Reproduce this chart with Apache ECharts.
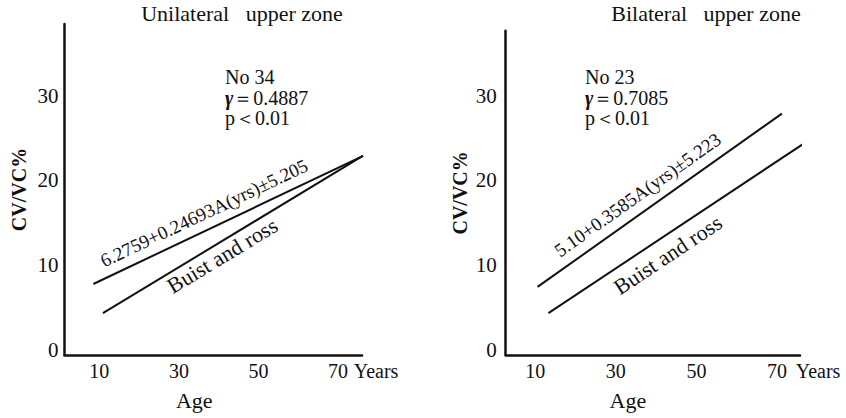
<!DOCTYPE html>
<html>
<head>
<meta charset="utf-8">
<script src="https://cdn.jsdelivr.net/npm/echarts@6/dist/echarts.min.js"></script>
<style>
html,body{margin:0;padding:0;background:#fff;}
#chart{width:846px;height:418px;}
</style>
</head>
<body>
<div id="chart"></div>
<script>
// ---- data ----
const xTickValues = [10, 30, 50, 70];
const yTickValues = [0, 10, 20, 30];
const panelTitles = ['Unilateral   upper zone', 'Bilateral   upper zone'];
const panelStats = [['No 34', '0.4887', '0.01'], ['No 23', '0.7085', '0.01']];
const regressionLabels = ['6.2759+0.24693A(yrs)\u00b15.205', '5.10+0.3585A(yrs)\u00b15.223'];
const referenceLabel = 'Buist and ross';

// Unilateral panel
const uniRegAge = [8.5, 76.3];
const uniRegCV = [7.75, 22.9];
const uniBRAge = [10.9, 76.2];
const uniBRCV = [4.3, 22.9];
// Bilateral panel
const biRegAge = [10.6, 71.2];
const biRegCV = [7.4, 27.9];
const biBRAge = [13.3, 77.4];
const biBRCV = [4.3, 24.6];

const zip = (a, b) => a.map((v, i) => [v, b[i]]);

const FONT = "'Liberation Serif', 'DejaVu Serif', serif";
const INK = '#111';

function xAxisFor(idx, min, max, namePad) {
  return {
    gridIndex: idx, type: 'value', min: min, max: max,
    axisLine: { show: true, onZero: false, lineStyle: { color: INK, width: 2.5 } },
    axisTick: { show: false },
    splitLine: { show: false },
    axisLabel: { customValues: xTickValues, color: INK, fontFamily: FONT, fontSize: 20, margin: 6 },
    name: 'Age', nameLocation: 'middle', nameGap: 34,
    nameTextStyle: { color: INK, fontFamily: FONT, fontSize: 22, padding: namePad }
  };
}
function yAxisFor(idx, min, max, margin) {
  return {
    gridIndex: idx, type: 'value', min: min, max: max,
    axisLine: { show: true, onZero: false, lineStyle: { color: INK, width: 2.5 } },
    axisTick: { show: false },
    splitLine: { show: false },
    axisLabel: { customValues: yTickValues, color: INK, fontFamily: FONT, fontSize: 21, margin: margin },
    name: 'CV/VC%', nameLocation: 'middle', nameGap: 36, nameRotate: 90,
    nameTextStyle: { color: INK, fontFamily: FONT, fontSize: 20, fontWeight: 'bold' }
  };
}
function lineSeries(idx, ages, cvs) {
  return {
    type: 'line', xAxisIndex: idx, yAxisIndex: idx, data: zip(ages, cvs),
    symbol: 'none', clip: false, silent: true,
    lineStyle: { color: INK, width: 2 }
  };
}
function labelSeries(idx, anchor, text, size) {
  return {
    type: 'scatter', xAxisIndex: idx, yAxisIndex: idx, data: [anchor],
    symbolSize: 1, itemStyle: { color: 'rgba(0,0,0,0)', opacity: 1 }, clip: false, silent: true,
    label: { show: true, position: 'inside', formatter: text, rotate: 0, opacity: 1,
      color: INK, textBorderWidth: 0, fontFamily: FONT, fontSize: size, align: 'center', verticalAlign: 'middle' }
  };
}
function statsText(x, stats) {
  return {
    type: 'text', left: x, top: 67,
    style: {
      text: stats[0] + '\n{g|\u03b3}\uff1d' + stats[1] + '\np\uff1c' + stats[2],
      fill: INK, font: '20px ' + FONT, lineHeight: 20.5,
      rich: { g: { fontFamily: FONT, fontSize: 20, fontWeight: 'bold', fontStyle: 'italic', fill: INK, lineHeight: 20.5 } }
    }
  };
}
function plainText(x, y, text, size) {
  return {
    type: 'text', x: x, y: y,
    style: { text: text, fill: INK, font: size + 'px ' + FONT, textAlign: 'center', textVerticalAlign: 'middle' }
  };
}

const option = {
  animation: false,
  backgroundColor: '#fff',
  grid: [
    { left: 64.5, top: 24, width: 297.5, height: 331 },
    { left: 505.7, top: 30.7, width: 294.3, height: 324.3 }
  ],
  xAxis: [xAxisFor(0, 1.25, 76, [0, 38, 0, 0]), xAxisFor(1, 2.7, 75.7, [0, 50, 0, 0])],
  yAxis: [yAxisFor(0, -0.65, 38.5, 6), yAxisFor(1, -0.65, 37.7, 9)],
  series: [
    lineSeries(0, uniRegAge, uniRegCV),
    lineSeries(0, uniBRAge, uniBRCV),
    lineSeries(1, biRegAge, biRegCV),
    lineSeries(1, biBRAge, biBRCV),
    labelSeries(0, [36.3, 16.15], regressionLabels[0], 19),
    labelSeries(0, [40.9, 11.1], referenceLabel, 22),
    labelSeries(1, [35.4, 18.3], regressionLabels[1], 19),
    labelSeries(1, [42.9, 11.2], referenceLabel, 22)
  ],
  graphic: [
    plainText(242, 13, panelTitles[0], 22),
    plainText(706, 13, panelTitles[1], 22),
    statsText(225, panelStats[0]),
    statsText(585, panelStats[1]),
    plainText(376, 371, 'Years', 20),
    plainText(818, 371, 'Years', 20)
  ]
};

const chart = echarts.init(document.getElementById('chart'), null, { renderer: 'svg' });
chart.setOption(option);

// rotate each label along the line it describes, using the axes' own scales
function angleOf(idx, ages, cvs) {
  const p1 = chart.convertToPixel({ gridIndex: idx }, [ages[0], cvs[0]]);
  const p2 = chart.convertToPixel({ gridIndex: idx }, [ages[1], cvs[1]]);
  return Math.atan2(p1[1] - p2[1], p2[0] - p1[0]) * 180 / Math.PI;
}
const angles = [
  angleOf(0, uniRegAge, uniRegCV), angleOf(0, uniBRAge, uniBRCV),
  angleOf(1, biRegAge, biRegCV), angleOf(1, biBRAge, biBRCV)
];
chart.setOption({
  series: [{}, {}, {}, {},
    { label: { rotate: angles[0] } }, { label: { rotate: angles[1] } },
    { label: { rotate: angles[2] } }, { label: { rotate: angles[3] } }]
});
</script>
</body>
</html>
